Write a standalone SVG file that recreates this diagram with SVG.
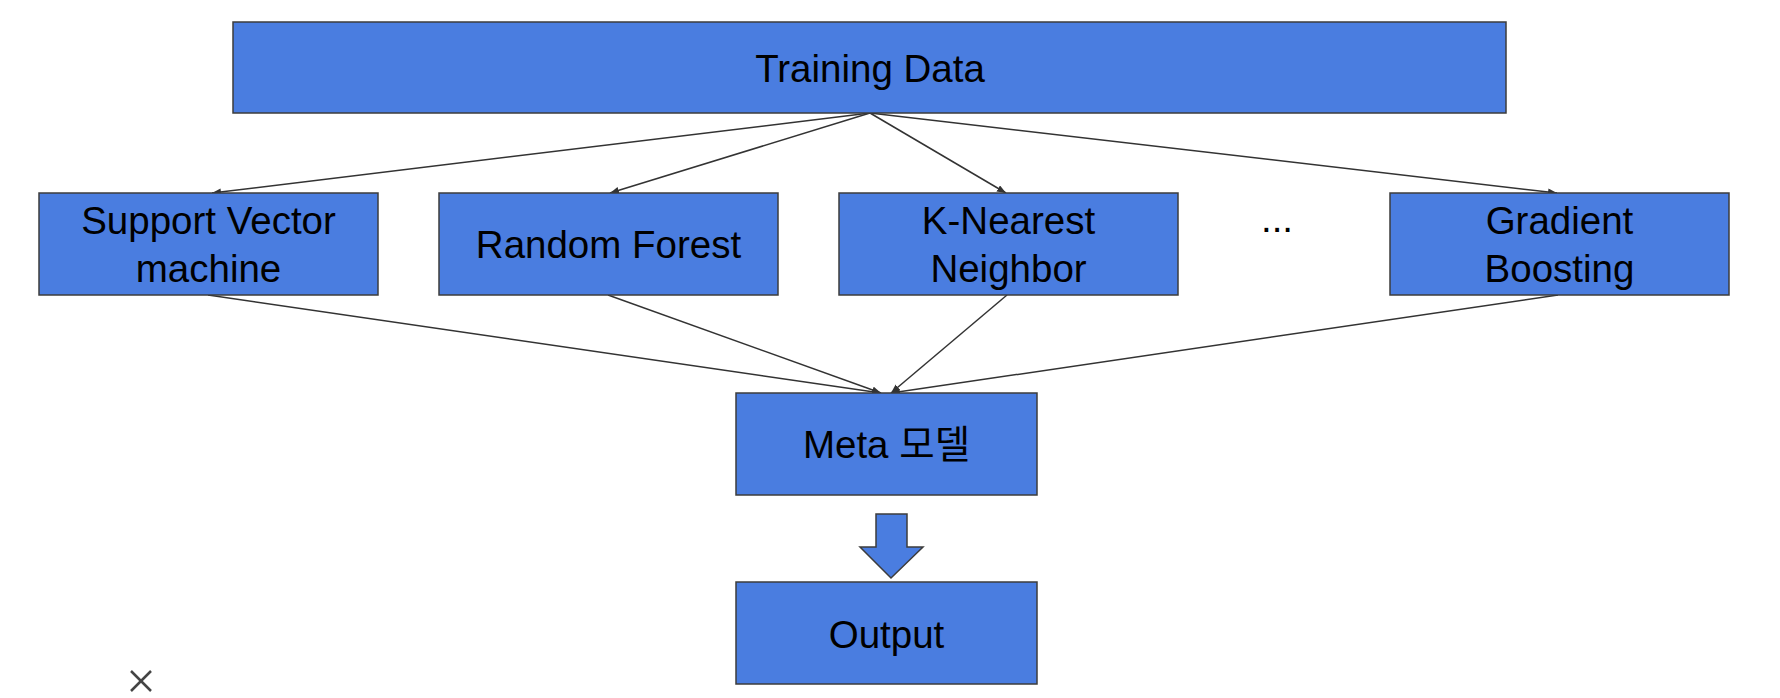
<svg xmlns="http://www.w3.org/2000/svg" width="1780" height="698" viewBox="0 0 1780 698">
  <style>
    .box { fill: #4a7de0; stroke: #3c3c3c; stroke-width: 1.5; }
    .lbl { font-family: "Liberation Sans", Arial, "Noto Sans CJK KR", sans-serif; font-size: 38.5px; fill: #000; text-anchor: middle; }
    .conn { stroke: #333; stroke-width: 1.5; fill: none; marker-end: url(#ah); }
  </style>
  <defs>
    <marker id="ah" markerUnits="userSpaceOnUse" markerWidth="10" markerHeight="8" refX="9" refY="3.5" orient="auto">
      <path d="M0,0 L9,3.5 L0,7 z" fill="#333"/>
    </marker>
  </defs>
  <rect width="1780" height="698" fill="#fff"/>

  <g id="connectors">
    <line class="conn" x1="870" y1="113" x2="212" y2="193"/>
    <line class="conn" x1="870" y1="113" x2="610" y2="193"/>
    <line class="conn" x1="870" y1="113" x2="1006" y2="193"/>
    <line class="conn" x1="870" y1="113" x2="1557" y2="193"/>
    <line class="conn" x1="208" y1="295" x2="881" y2="393"/>
    <line class="conn" x1="608" y1="295" x2="881" y2="393"/>
    <line class="conn" x1="1007" y1="295" x2="891" y2="393"/>
    <line class="conn" x1="1558" y1="295" x2="891" y2="393"/>
  </g>

  <g id="training">
    <rect class="box" x="233" y="22" width="1273" height="91"/>
    <text class="lbl" x="870" y="81.5">Training Data</text>
  </g>
  <g id="svm">
    <rect class="box" x="39" y="193" width="339" height="102"/>
    <text class="lbl" x="208.5" y="234">Support Vector</text>
    <text class="lbl" x="208.5" y="282">machine</text>
  </g>
  <g id="rf">
    <rect class="box" x="439" y="193" width="339" height="102"/>
    <text class="lbl" x="608.5" y="258">Random Forest</text>
  </g>
  <g id="knn">
    <rect class="box" x="839" y="193" width="339" height="102"/>
    <text class="lbl" x="1008.5" y="234">K-Nearest</text>
    <text class="lbl" x="1008.5" y="282">Neighbor</text>
  </g>
  <g id="ellipsis">
    <text class="lbl" x="1277" y="232">...</text>
  </g>
  <g id="gb">
    <rect class="box" x="1390" y="193" width="339" height="102"/>
    <text class="lbl" x="1559.5" y="234">Gradient</text>
    <text class="lbl" x="1559.5" y="282">Boosting</text>
  </g>
  <g id="meta">
    <rect class="box" x="736" y="393" width="301" height="102"/>
    <text class="lbl" x="886.5" y="458">Meta 모델</text>
  </g>
  <g id="down-arrow">
    <path class="box" d="M876,514 L907,514 L907,547 L923,547 L891,578 L860,547 L876,547 Z"/>
  </g>
  <g id="output">
    <rect class="box" x="736" y="582" width="301" height="102"/>
    <text class="lbl" x="886.5" y="648">Output</text>
  </g>
  <g id="close-mark" stroke="#444" stroke-width="2.5">
    <line x1="131" y1="671" x2="151" y2="691"/>
    <line x1="151" y1="671" x2="131" y2="691"/>
  </g>
</svg>
